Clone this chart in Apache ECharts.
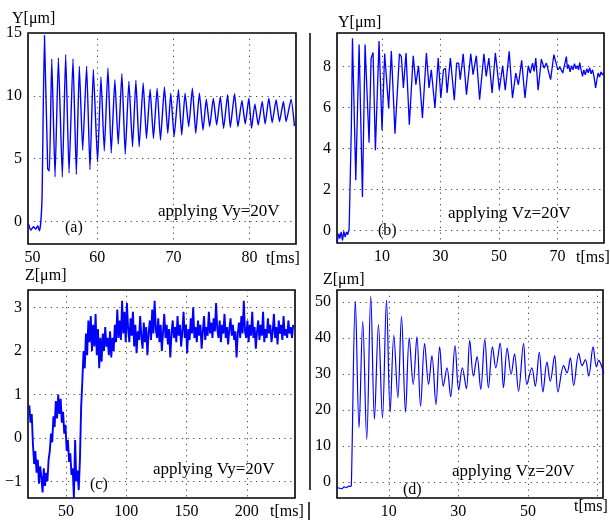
<!DOCTYPE html>
<html><head><meta charset="utf-8">
<script src="https://cdn.jsdelivr.net/npm/echarts@6/dist/echarts.min.js"></script>
<style>html,body{margin:0;padding:0;background:#fff}#c{width:610px;height:520px}</style>
</head><body><div id="c"></div>
<script>
// ---- panel (a): Y vs t, applying Vy=20V ----
const aTime = [50.96,51.27,51.62,51.92,52.18,52.40,52.58,52.75,53.06,53.49,53.71,54.02,54.45,54.89,55.41,55.85,56.29,56.81,57.25,57.64,58.08,58.60,59.04,59.48,60.04,60.48,60.92,61.40,61.83,62.31,62.75,63.23,63.67,64.15,64.63,65.07,65.50,66.03,66.46,66.94,67.38,67.86,68.30,68.82,69.26,69.65,70.09,70.66,71.09,71.53,72.01,72.49,72.93,73.41,73.89,74.32,74.76,75.24,75.68,76.16,76.59,77.12,77.47,78.03,78.47,79.00,79.43,79.91,80.26,80.70,81.14,81.66,82.05,82.53,82.97,83.49,83.93,84.45,84.80,85.46,85.90];
const aY = [-0.21,-0.70,-0.43,-0.61,-0.35,-0.75,-0.08,2.0,14.81,4.20,4.01,12.94,3.53,13.02,3.53,13.29,3.85,12.94,3.74,12.35,5.67,12.35,4.12,12.09,4.73,11.50,5.61,12.22,5.45,11.28,6.15,11.76,5.35,11.15,5.94,11.23,5.94,11.02,6.60,10.53,6.60,10.61,6.47,10.70,7.01,10.21,6.74,10.48,6.87,10.21,7.54,10.61,7.01,10.21,7.27,9.73,7.54,9.81,7.67,9.95,7.41,10.08,7.49,10.16,7.54,9.63,7.75,9.81,7.41,9.36,7.67,9.55,7.75,9.81,7.86,9.68,7.94,9.55,7.94,9.73,7.59];

// ---- panel (b): Y vs t, applying Vz=20V ----
const bTime = [-5.34,-4.77,-4.43,-3.98,-3.52,-3.07,-2.61,-2.16,-1.70,-1.25,-1.02,-0.5,-0.11,1.02,2.16,3.30,4.20,5.57,6.25,6.93,7.73,8.98,10.0,10.9,11.36,12.27,13.18,14.43,15.96,16.6,17.3,18.2,19.33,20.67,21.57,22.47,23.1,23.82,25.17,26.07,26.85,27.4,28.09,29.21,30.11,31.0,31.7,32.25,33.37,34.72,35.5,36.2,36.74,37.75,38.88,40.34,41.12,42.25,43.37,44.83,45.62,46.52,47.64,48.76,50.11,51.24,52.13,53.48,54.61,55.73,56.63,57.75,58.88,60.0,60.67,61.46,62.0,62.58,63.37,64.49,65.4,66.2,67.64,68.76,70.11,70.8,71.8,73.03,73.4,73.8,74.3,74.8,75.3,75.8,76.3,76.8,77.2,77.6,78.0,78.54,79.0,79.5,80.0,80.5,81.0,81.5,82.0,82.5,83.03,83.5,83.9,84.4,84.9,85.4,85.9];
const bY = [-0.57,-0.16,-0.41,-0.08,-0.49,-0.05,-0.33,-0.08,-0.21,0.08,0.16,5.0,9.39,2.45,9.09,1.63,9.09,4.29,8.41,8.70,3.92,9.26,4.90,8.65,8.57,5.96,8.77,4.73,8.63,8.5,6.96,8.67,5.17,8.54,7.12,8.05,7.98,5.5,8.67,6.96,7.85,7.85,5.98,8.42,6.47,7.85,7.93,6.72,8.42,6.36,8.18,8.18,7.37,8.63,6.63,8.63,7.61,8.54,6.39,8.63,7.53,8.42,6.72,8.67,6.88,8.05,6.85,8.75,6.47,7.69,7.12,8.31,6.47,8.05,7.69,8.18,7.77,8.42,6.85,8.37,7.93,8.18,7.37,8.59,7.85,7.98,7.69,8.5,7.9,8.1,7.75,8.05,7.85,8.15,7.9,8.05,7.85,8.2,7.9,7.53,7.85,7.6,7.9,7.7,7.95,7.65,7.85,7.5,6.96,7.4,7.7,7.5,7.75,7.6,7.7];

// ---- panel (c): Z vs t, applying Vy=20V (sampled every 1 ms from 19.5 ms) ----
const cStart = 19.5;
const cStep = 1.0;
const cZ = [0.75,0.35,0.55,-0.15,-0.6,-0.3,-0.8,-0.5,-1.05,-0.65,-0.9,-1.25,-0.7,-1.1,-0.8,-1.0,-0.5,-0.3,0.1,-0.1,
0.5,0.25,0.85,0.45,1.0,0.55,0.9,0.35,0.6,0.1,0.3,-0.3,-0.05,-0.55,-0.35,-0.85,-0.7,-1.38,-0.05,-1.0,
-0.75,-1.2,-0.5,0.7,1.3,2.0,1.6,2.4,1.9,2.7,2.2,2.8,2.0,2.6,2.1,2.85,1.9,2.5,1.6,2.3,
1.75,2.4,2.0,2.55,2.1,2.3,1.9,2.45,1.85,2.3,2.0,2.6,2.2,2.95,2.3,2.7,2.25,3.15,2.4,2.9,
2.2,3.1,
2.5,2.2,2.75,2.35,2.9,2.1,2.6,1.95,2.45,2.25,2.8,2.3,2.05,2.65,2.2,2.55,1.9,2.4,2.7,2.25,
2.95,2.4,3.15,2.5,2.3,2.75,2.2,2.6,2.0,2.45,2.85,2.3,2.6,2.15,2.5,1.85,2.4,2.7,2.3,2.55,
2.2,2.8,2.35,2.6,2.1,2.45,2.9,2.3,2.6,1.95,2.5,2.25,2.75,2.4,3.0,2.3,2.55,2.2,2.7,2.35,
2.6,2.05,2.45,2.8,2.25,2.55,2.35,2.9,2.4,2.65,2.3,2.75,2.45,3.1,2.5,2.3,2.7,2.2,2.6,2.4,
2.85,2.3,2.55,2.15,2.5,2.75,2.35,2.6,2.25,2.45,1.85,2.4,2.65,2.3,2.8,2.4,3.15,2.45,2.3,2.7,
2.2,2.6,2.35,2.9,2.3,2.55,2.05,2.45,2.7,2.25,2.6,2.35,2.9,2.2,2.5,2.3,2.75,2.4,2.6,2.2,
2.45,2.85,2.3,2.55,2.15,2.7,2.4,2.6,2.25,2.8,2.35,2.5,2.3,2.7,2.4,2.55,2.3,2.6];

// ---- panel (d): Z vs t, applying Vz=20V ----
const dTime = [-4.90,-4.13,-3.46,-2.88,-2.21,-1.54,-0.96,-0.77,0.38,1.44,2.5,3.65,4.81,5.87,7.02,8.17,9.33,10.38,11.44,12.6,13.65,14.81,15.87,17.02,18.08,19.13,20.29,21.44,22.4,23.56,24.62,25.67,26.73,27.79,29.04,30.1,31.15,32.31,33.27,34.33,35.38,36.44,37.6,38.65,39.81,40.77,42.02,42.98,44.04,45.19,46.15,47.31,48.75,49.71,51.15,52.12,53.27,54.33,55.48,56.44,57.69,58.65,60.29,61.25,62.21,63.17,64.62,65.58,66.54,67.5,68.75,69.71,70.38,71.15,71.83];
const dZ = [-1.4,-1.7,-1.8,-1.3,-1.5,-1.1,-1.2,-0.8,50.2,15.1,44.6,11.8,51.6,17.4,43.7,17.8,50.5,19.4,40.7,23.4,46.0,19.4,40.0,27.1,40.3,21.1,38.4,27.1,35.1,21.5,37.5,26.6,31.7,23.7,37.9,25.5,31.7,25.9,39.3,29.4,34.8,25.7,39.6,26.2,37.5,31.7,38.6,26.2,37.2,29.9,35.6,25.2,38.4,27.1,31.7,26.6,36.0,25.0,33.3,28.0,35.1,25.0,32.3,30.3,34.5,26.8,35.7,32.3,34.0,29.4,37.5,32.0,33.8,32.3,30.1];

// ---- tick values ----
const aXTicks = [60, 70, 80], aXLabels = ['50', '60', '70', '80'];
const bXTicks = [10, 30, 50, 70];
const cXTicks = [50, 100, 150, 200];
const dXTicks = [10, 30, 50, 70], dXLabelTicks = [10, 30, 50];
const aYTicks = [0, 5, 10, 15];
const bYTicks = [0, 2, 4, 6, 8];
const cYTicks = [-1, 0, 1, 2, 3];
const dYTicks = [0, 10, 20, 30, 40, 50];

const FONT = 'Liberation Serif';
const BLUE = '#0000ff';
const zip = (t, v) => t.map((x, i) => [x, v[i]]);
const cData = cZ.map((v, i) => [cStart + i * cStep, v]);

const grids = [
  {left: 28, top: 33, width: 268, height: 211},
  {left: 337, top: 33, width: 267, height: 210},
  {left: 28, top: 290, width: 267, height: 209},
  {left: 337, top: 290, width: 266, height: 209}
].map(g => Object.assign(g, {show: true, borderColor: '#000', borderWidth: 1.6, backgroundColor: 'transparent', containLabel: false}));

const split = {show: true, lineStyle: {color: '#444', width: 1, type: [1.2, 4.5]}};
const lbl = {fontFamily: FONT, fontSize: 16, color: '#000'};
function xAxis(gi, min, max, ticks, labelVals, fmt) {
  return {type: 'value', gridIndex: gi, min, max,
    axisLine: {show: false}, axisTick: {show: false, customValues: ticks},
    splitLine: split,
    axisLabel: Object.assign({customValues: labelVals, margin: 6, formatter: fmt || (v => String(v)), showMinLabel: true, showMaxLabel: true, hideOverlap: false}, lbl)};
}
function yAxis(gi, min, max, ticks) {
  return {type: 'value', gridIndex: gi, min, max,
    axisLine: {show: false}, axisTick: {show: false, customValues: ticks},
    splitLine: split,
    axisLabel: Object.assign({customValues: ticks, margin: 6, formatter: v => String(v).replace('-', '\u2212'), showMinLabel: true, showMaxLabel: true, hideOverlap: false}, lbl)};
}
const aLabelPos = [51.5].concat(aXTicks);

function txt(x, y, s, size, align) {
  return {type: 'text', x, y, style: {text: s, fontFamily: FONT, fontSize: size || 16, fill: '#000', align: align || 'left', verticalAlign: 'middle'}};
}

const option = {
  animation: false,
  backgroundColor: '#fff',
  grid: grids,
  xAxis: [
    xAxis(0, 50.9, 86.1, aXTicks, aLabelPos, v => v < 55 ? aXLabels[0] : String(v)),
    xAxis(1, -5.4, 85.9, bXTicks, bXTicks),
    xAxis(2, 18.4, 240, cXTicks, cXTicks),
    xAxis(3, -4.9, 71.6, dXTicks, dXLabelTicks)
  ],
  yAxis: [
    yAxis(0, -1.8, 15, aYTicks),
    yAxis(1, -0.62, 9.65, bYTicks),
    yAxis(2, -1.38, 3.4, cYTicks),
    yAxis(3, -4.4, 53.3, dYTicks)
  ],
  series: [
    {type: 'line', xAxisIndex: 0, yAxisIndex: 0, data: zip(aTime, aY), showSymbol: false, smooth: 0.15, lineStyle: {color: BLUE, width: 1.4}},
    {type: 'line', xAxisIndex: 1, yAxisIndex: 1, data: zip(bTime, bY), showSymbol: false, lineStyle: {color: BLUE, width: 1.3}},
    {type: 'line', xAxisIndex: 2, yAxisIndex: 2, data: cData, showSymbol: false, lineStyle: {color: BLUE, width: 1.9}},
    {type: 'line', xAxisIndex: 3, yAxisIndex: 3, data: zip(dTime, dZ), showSymbol: false, smooth: 0.35, lineStyle: {color: BLUE, width: 1.2}}
  ],
  graphic: [
    txt(12, 19, 'Y[\u03bcm]'),
    txt(338, 23, 'Y[\u03bcm]'),
    txt(25, 276, 'Z[\u03bcm]'),
    txt(323, 280, 'Z[\u03bcm]'),
    txt(266, 259, 't[ms]'),
    txt(576, 258, 't[ms]'),
    txt(270, 512, 't[ms]'),
    txt(574, 507, 't[ms]'),
    txt(158, 212, 'applying Vy=20V', 17),
    txt(448, 214, 'applying Vz=20V', 17),
    txt(153, 470, 'applying Vy=20V', 17),
    txt(452, 472, 'applying Vz=20V', 17),
    txt(65, 228, '(a)'),
    txt(378, 231, '(b)'),
    txt(90, 485, '(c)'),
    txt(403, 490, '(d)'),
    {type: 'line', shape: {x1: 310, y1: 33, x2: 310, y2: 490}, style: {stroke: '#000', lineWidth: 1.5}},
    {type: 'line', shape: {x1: 309, y1: 502, x2: 309, y2: 520}, style: {stroke: '#000', lineWidth: 1.5}}
  ]
};
echarts.init(document.getElementById('c'), null, {renderer: 'canvas'}).setOption(option);
</script>
</body></html>
